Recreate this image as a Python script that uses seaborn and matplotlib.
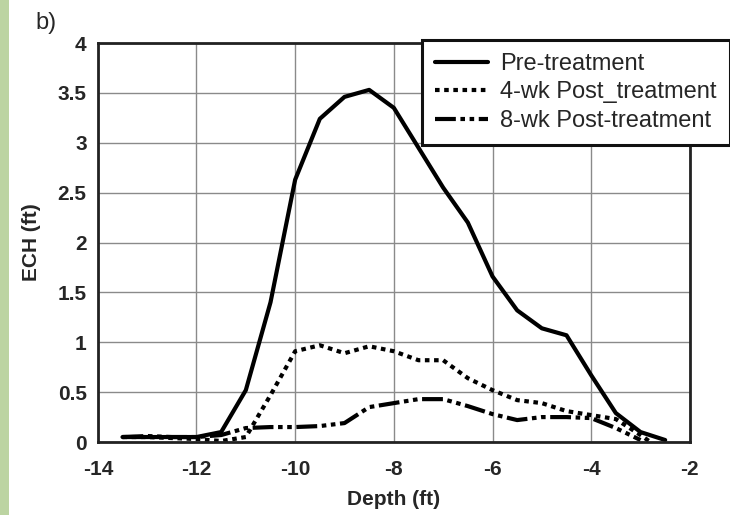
import pandas as pd
import matplotlib
matplotlib.use("Agg")
import matplotlib.pyplot as plt
import seaborn as sns
from matplotlib.patches import Rectangle

# --- data ---
depth_pre = [-13.5, -13, -12.5, -12, -11.5, -11, -10.5, -10, -9.5, -9, -8.5, -8,
             -7.5, -7, -6.5, -6, -5.5, -5, -4.5, -4, -3.5, -3, -2.5]
ech_pre = [0.05, 0.05, 0.05, 0.05, 0.1, 0.52, 1.4, 2.63, 3.24, 3.46, 3.53, 3.35,
           2.95, 2.55, 2.2, 1.66, 1.32, 1.14, 1.07, 0.67, 0.29, 0.1, 0.02]

depth_4wk = [-13.5, -13, -12.5, -12, -11.5, -11, -10.5, -10, -9.5, -9, -8.5, -8,
             -7.5, -7, -6.5, -6, -5.5, -5, -4.5, -4, -3.5, -3, -2.8]
ech_4wk = [0.05, 0.05, 0.04, 0.03, 0.01, 0.05, 0.47, 0.91, 0.97, 0.89, 0.96, 0.91,
           0.82, 0.82, 0.64, 0.52, 0.42, 0.39, 0.31, 0.27, 0.23, 0.07, 0.0]

depth_8wk = [-13.5, -13, -12.5, -12, -11.5, -11, -10.5, -10, -9.5, -9, -8.5, -8,
             -7.5, -7, -6.5, -6, -5.5, -5, -4.5, -4, -3.5, -3]
ech_8wk = [0.05, 0.06, 0.05, 0.05, 0.07, 0.14, 0.15, 0.15, 0.16, 0.19, 0.35, 0.39,
           0.43, 0.43, 0.36, 0.28, 0.22, 0.25, 0.25, 0.24, 0.14, 0.02]

series_names = ["Pre-treatment", "4-wk Post_treatment", "8-wk Post-treatment"]

df = pd.concat([
    pd.DataFrame({"depth": depth_pre, "ech": ech_pre, "series": series_names[0]}),
    pd.DataFrame({"depth": depth_4wk, "ech": ech_4wk, "series": series_names[1]}),
    pd.DataFrame({"depth": depth_8wk, "ech": ech_8wk, "series": series_names[2]}),
], ignore_index=True)

sns.set_style("white")
plt.rcParams["font.family"] = ["Liberation Sans", "DejaVu Sans"]
plt.rcParams["axes.unicode_minus"] = False

fig = plt.figure(figsize=(7.3, 5.15), dpi=100)
ax = fig.add_axes([0.134, 0.1417, 0.811, 0.7748])

dash_map = {
    series_names[0]: "",
    series_names[1]: (1.1, 1.1),
    series_names[2]: (5, 1.1, 1.1, 1.1, 1.1, 1.1),
}
sns.lineplot(data=df, x="depth", y="ech", style="series", style_order=series_names,
             dashes=dash_map, color="black", linewidth=3, sort=False, ax=ax)

ax.set_xlim(-14, -2)
ax.set_ylim(0, 4)
ax.set_xticks(range(-14, -1, 2))
ax.set_yticks([0, 0.5, 1, 1.5, 2, 2.5, 3, 3.5, 4])
ax.set_yticklabels(["0", "0.5", "1", "1.5", "2", "2.5", "3", "3.5", "4"])
ax.grid(True, color="#8a8a8a", linewidth=1.0)
ax.tick_params(axis="x", length=0, labelsize=15, pad=13)
ax.tick_params(axis="y", length=0, labelsize=15, pad=8)
for lab in ax.get_xticklabels() + ax.get_yticklabels():
    lab.set_fontweight("bold")
for sp in ax.spines.values():
    sp.set_visible(True)
    sp.set_color("#222222")
    sp.set_linewidth(2)

ax.set_xlabel("Depth (ft)", fontsize=15, fontweight="bold", labelpad=8)
ax.set_ylabel("ECH (ft)", fontsize=15, fontweight="bold", labelpad=12)

handles, labels = ax.get_legend_handles_labels()
leg = ax.legend(handles, labels, loc="upper left", bbox_to_anchor=(0.548, 1.008),
                fontsize=17, frameon=True, fancybox=False, handlelength=2.25,
                handletextpad=0.5, borderpad=0.55, labelspacing=0.28, borderaxespad=0)
leg.get_frame().set_edgecolor("#111111")
leg.get_frame().set_linewidth(2.2)
leg.get_frame().set_alpha(1)
leg.set_zorder(5)

fig.text(0.048, 0.955, "b)", fontsize=17, ha="left", va="center")

# light green strip along the left edge
fig.patches.append(Rectangle((0, 0), 0.013, 1, transform=fig.transFigure,
                             facecolor="#bcd4a2", edgecolor="none"))

fig.savefig("out.png", dpi=100)
